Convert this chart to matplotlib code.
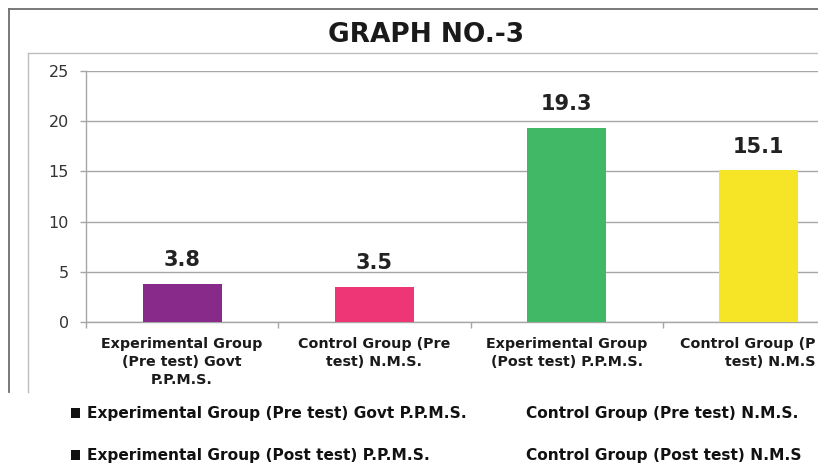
import matplotlib
matplotlib.use("Agg")
import matplotlib.pyplot as plt
from matplotlib.lines import Line2D
from matplotlib.patches import Rectangle

# data
categories = ["Experimental Group\n(Pre test) Govt\nP.P.M.S.",
              "Control Group (Pre\ntest) N.M.S.",
              "Experimental Group\n(Post test) P.P.M.S.",
              "Control Group (P\ntest) N.M.S"]
values = [3.8, 3.5, 19.3, 15.1]
colors = ["#872A8A", "#EE3575", "#41B866", "#F6E526"]
yticks = [0, 5, 10, 15, 20, 25]
legend_rows = [["Experimental Group (Pre test) Govt P.P.M.S.", "Control Group (Pre test) N.M.S."],
               ["Experimental Group (Post test) P.P.M.S.", "Control Group (Post test) N.M.S"]]
title = "GRAPH NO.-3"

W, H = 835, 465


def fx(px):
    return px / W


def fy(py):
    return 1 - py / H


fig = plt.figure(figsize=(W / 100, H / 100), dpi=100)
fig.patch.set_facecolor("white")

ax = fig.add_axes([fx(86), fy(322), fx(855) - fx(86), fy(71) - fy(322)])
x = list(range(len(values)))
ax.bar(x, values, width=0.41, color=colors, zorder=3)

for xi, v in zip(x, values):
    ax.annotate(f"{v}", (xi, v), xytext=(0, 10), textcoords="offset points",
                ha="center", va="bottom", fontsize=15, fontweight="bold", color="#222222")

ax.set_xlim(-0.5, 3.5)
ax.set_ylim(0, 25)
ax.set_yticks(yticks)
ax.set_yticklabels([str(t) for t in yticks], fontsize=11.5, color="#333333")
ax.tick_params(axis="y", length=4.5, width=1, color="#A6A6A6", pad=8)

# category labels; the last one sits against the cut-off right edge
ax.set_xticks(x)
ax.set_xticklabels(categories[:-1] + [""], fontsize=10.3, fontweight="bold",
                   color="#1a1a1a", linespacing=1.37)
ax.tick_params(axis="x", length=0, pad=11)
ax.annotate(categories[-1], (x[-1], 0), xytext=(41, -11), textcoords="offset points",
            ha="right", va="top", multialignment="right", fontsize=10.3,
            fontweight="bold", color="#1a1a1a", linespacing=1.37,
            annotation_clip=False)
ax.set_xticks([-0.5, 0.5, 1.5, 2.5], minor=True)
ax.tick_params(axis="x", which="minor", length=4, width=1, color="#A6A6A6", direction="out")

ax.yaxis.grid(True, color="#A6A6A6", linewidth=1, zorder=0)
ax.set_axisbelow(True)
for s in ["top", "right"]:
    ax.spines[s].set_visible(False)
for s in ["left", "bottom"]:
    ax.spines[s].set_color("#A6A6A6")
    ax.spines[s].set_linewidth(1)

# chart frames
fig.add_artist(Line2D([fx(9), fx(9)], [fy(9), fy(392)], color="#6E6E6E", lw=1.3))
fig.add_artist(Line2D([fx(9), fx(818)], [fy(9), fy(9)], color="#6E6E6E", lw=1.3))
fig.add_artist(Line2D([fx(28), fx(28)], [fy(53), fy(392)], color="#BDBDBD", lw=1))
fig.add_artist(Line2D([fx(28), fx(818)], [fy(53), fy(53)], color="#BDBDBD", lw=1))

fig.text(fx(426), fy(35), title, ha="center", va="center", fontsize=19,
         fontweight="bold", color="#1a1a1a")

# screenshot was cut off on the right
fig.add_artist(Rectangle((fx(818), fy(395)), 1 - fx(818), fy(0) - fy(395) + 0.01,
                         transform=fig.transFigure, facecolor="white",
                         edgecolor="none", zorder=20))

# legend (squashed text below the chart)
row_y = [413, 455]
for r, (left, right) in enumerate(legend_rows):
    fig.add_artist(Rectangle((fx(71), fy(row_y[r] + 5)), fx(9), fy(0) - fy(10),
                             transform=fig.transFigure, facecolor="#111111",
                             edgecolor="none"))
    fig.text(fx(87), fy(row_y[r]), left, ha="left", va="center", fontsize=11.1,
             fontweight="bold", color="#111111")
    fig.text(fx(526), fy(row_y[r]), right, ha="left", va="center", fontsize=11.1,
             fontweight="bold", color="#111111")

fig.savefig("out.png", dpi=100)
